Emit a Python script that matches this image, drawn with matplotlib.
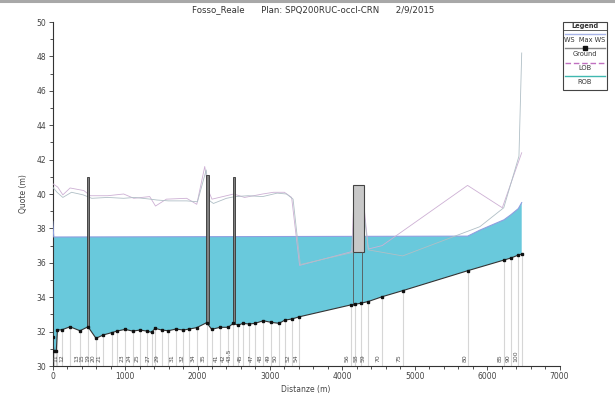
import numpy as np
import matplotlib
matplotlib.use("Agg")
import matplotlib.pyplot as plt
from matplotlib.patches import Rectangle
from matplotlib.lines import Line2D
from matplotlib.ticker import MultipleLocator

# ---------------- data ----------------
ground_x = [0, 15, 50, 65, 124, 239, 377, 488, 598, 695, 815, 888, 999, 1105, 1206, 1298,
            1367, 1413, 1506, 1597, 1703, 1804, 1887, 1989, 2127, 2196, 2311, 2425, 2494,
            2563, 2624, 2715, 2794, 2909, 3015, 3126, 3208, 3301, 3406, 4116, 4175, 4258,
            4359, 4552, 4834, 5732, 6233, 6330, 6431, 6478]
ground_z = [31.7, 30.9, 30.9, 32.1, 32.1, 32.28, 32.05, 32.28, 31.61, 31.8, 31.94, 32.03,
            32.13, 32.03, 32.09, 32.03, 31.96, 32.19, 32.09, 32.05, 32.15, 32.09, 32.15,
            32.23, 32.52, 32.13, 32.25, 32.25, 32.48, 32.37, 32.48, 32.44, 32.48, 32.63,
            32.54, 32.48, 32.67, 32.73, 32.86, 33.55, 33.59, 33.65, 33.75, 34.03, 34.38,
            35.54, 36.16, 36.28, 36.45, 36.5]

ws_x = [0, 15, 5732, 5900, 6233, 6330, 6431, 6478]
ws_z = [38.4, 37.5, 37.55, 37.9, 38.5, 38.8, 39.15, 39.5]

lob_x = [0, 70, 140, 240, 430, 520, 760, 980, 1120, 1340, 1420, 1570, 1850, 1990, 2100,
         2150, 2200, 2400, 2500, 2650, 2900, 3050, 3200, 3300, 3410, 4130, 4160, 4290,
         4360, 4550, 5730, 6210, 6478]
lob_z = [40.6, 40.4, 39.95, 40.35, 40.2, 39.9, 39.9, 40.0, 39.75, 39.85, 39.3, 39.7,
         39.75, 39.4, 41.6, 40.2, 39.7, 39.9, 40.0, 39.8, 40.0, 40.1, 40.1, 39.8, 35.85,
         36.65, 39.8, 39.7, 36.8, 37.0, 40.5, 39.2, 42.4]

rob_x = [0, 60, 140, 260, 420, 540, 760, 980, 1130, 1350, 1440, 1600, 1850, 2000, 2120,
         2170, 2220, 2400, 2520, 2700, 2900, 3100, 3230, 3320, 3420, 4140, 4170, 4280,
         4360, 4834, 5900, 6230, 6440, 6478]
rob_z = [40.4, 40.1, 39.8, 40.1, 39.95, 39.75, 39.8, 39.75, 39.8, 39.7, 39.65, 39.6,
         39.6, 39.55, 41.4, 39.6, 39.45, 39.75, 39.85, 39.9, 39.85, 40.05, 40.0, 39.7,
         35.9, 36.6, 39.7, 39.6, 36.75, 36.4, 38.1, 39.2, 42.2, 48.2]

# bridges (left x, right x, bottom, top)
bridge_x0 = [475, 2115, 2492]
bridge_x1 = [498, 2165, 2514]
bridge_bot = [32.25, 32.45, 32.45]
bridge_top = [41.0, 41.1, 41.0]
box_x0, box_x1, box_bot, box_top = 4152, 4300, 36.6, 40.5

station_labels = ["11", "12", "13", "15", "19", "20", "21", "23", "24", "25", "27", "29",
                  "31", "32", "34", "35", "41", "42", "43.5", "45", "47", "48", "49", "50",
                  "52", "54", "56", "58", "59", "70", "75", "80", "85", "90", "100"]
station_label_x = [45, 125, 331, 400, 480, 560, 640, 953, 1054, 1160, 1316, 1440, 1648,
                   1782, 1942, 2076, 2255, 2352, 2440, 2593, 2749, 2866, 2976, 3071, 3249,
                   3361, 4061, 4190, 4290, 4493, 4783, 5695, 6178, 6290, 6400]

title_text = "Fosso_Reale      Plan: SPQ200RUC-occl-CRN      2/9/2015"
xlabel_text = "Distanze (m)"
ylabel_text = "Quote (m)"

# ---------------- figure ----------------
W, H = 615, 397
fig = plt.figure(figsize=(W / 100, H / 100), dpi=100)
ax = fig.add_axes([52.7 / W, 1 - 366 / H, (559.5 - 52.7) / W, (366 - 22) / H])
ax.set_xlim(0, 7000)
ax.set_ylim(30, 50)

txtc = "#444444"

# vertical station lines
for gx, gz in zip(ground_x, ground_z):
    ax.plot([gx, gx], [30, gz], color="#d6d6d6", lw=0.8, zorder=1)

# water fill polygon (WS then ground reversed)
poly_x = np.concatenate([ws_x, ground_x[::-1]])
poly_z = np.concatenate([ws_z, ground_z[::-1]])
ax.fill(poly_x, poly_z, color="#69c9dc", lw=0, zorder=2)
ax.plot(ws_x, ws_z, color="#8f9fe0", lw=0.8, zorder=3)

# bank lines
ax.plot(lob_x, lob_z, color="#cdb0d4", lw=0.6, zorder=3)
ax.plot(rob_x, rob_z, color="#b0bfc6", lw=0.6, zorder=3)

# bridges
for x0, x1, b, t in zip(bridge_x0, bridge_x1, bridge_bot, bridge_top):
    ax.add_patch(Rectangle((x0, b), x1 - x0, t - b, facecolor="#808080",
                           edgecolor="#333333", lw=0.6, zorder=4))
ax.add_patch(Rectangle((box_x0, box_bot), box_x1 - box_x0, box_top - box_bot,
                       facecolor="#c8c8c8", edgecolor="#444444", lw=0.8, zorder=4))
ax.plot([box_x0, box_x0], [box_bot, 33.55], color="#555555", lw=0.6, zorder=4)
ax.plot([box_x1 - 30, box_x1 - 30], [box_bot, 33.62], color="#555555", lw=0.6, zorder=4)

# ground
ax.plot(ground_x, ground_z, color="#333333", lw=0.8, marker="s", ms=2.1,
        mfc="#111111", mec="#111111", zorder=5)

# station labels
for lab, sx in zip(station_labels, station_label_x):
    ax.text(sx, 30.25, lab, rotation=90, fontsize=4.4, color="#505050",
            ha="center", va="bottom", zorder=6)

# axes styling
for s in ["top", "right"]:
    ax.spines[s].set_visible(False)
for s in ["left", "bottom"]:
    ax.spines[s].set_color("#333333")
    ax.spines[s].set_linewidth(0.8)
ax.xaxis.set_major_locator(MultipleLocator(1000))
ax.xaxis.set_minor_locator(MultipleLocator(200))
ax.yaxis.set_major_locator(MultipleLocator(2))
ax.yaxis.set_minor_locator(MultipleLocator(1))
ax.tick_params(which="major", length=3, width=0.6, labelsize=5.5, colors="#333333",
               labelcolor=txtc, pad=1.5)
ax.tick_params(which="minor", length=2, width=0.6, colors="#333333")
ax.set_xlabel(xlabel_text, fontsize=5.5, color=txtc, labelpad=3)
ax.set_ylabel(ylabel_text, fontsize=5.5, color=txtc, labelpad=6)

# title
fig.text(313 / W, 1 - 10 / H, title_text, fontsize=6.2, color="#333333",
         ha="center", va="center")
# top gray bar
fig.add_artist(Line2D([0, 1], [1 - 1 / H, 1 - 1 / H], transform=fig.transFigure,
                      color="#a8a8a8", lw=2.2))

# legend box (figure pixel coords)
def fx(px):
    return px / W

def fy(py):
    return 1 - py / H

lx0, lx1, ly0, ly1 = 562.7, 607.3, 21.7, 90
fig.add_artist(Rectangle((fx(lx0), fy(ly1)), fx(lx1) - fx(lx0), fy(ly0) - fy(ly1),
                         transform=fig.transFigure, facecolor="white",
                         edgecolor="#444444", lw=0.8))
fig.add_artist(Line2D([fx(lx0), fx(lx1)], [fy(30), fy(30)], transform=fig.transFigure,
                      color="#444444", lw=0.6))
cx = (lx0 + lx1) / 2
fig.text(fx(cx), fy(25.8), "Legend", fontsize=4.8, fontweight="bold", color="#333333",
         ha="center", va="center")
legend_rows = [("WS  Max WS", "#a8b4e8", "-", None, 34.3, 40.2),
               ("Ground", "#888888", "-", "s", 48.3, 54.4),
               ("LOB", "#c070c0", (0, (4, 2)), None, 63.3, 68.4),
               ("ROB", "#40b8b0", "-", None, 76.0, 81.8)]
for lab, col, ls, mk, ly, ty in legend_rows:
    fig.add_artist(Line2D([fx(lx0 + 2), fx(lx1 - 2)], [fy(ly), fy(ly)],
                          transform=fig.transFigure, color=col, lw=1.0, ls=ls))
    if mk:
        fig.add_artist(Line2D([fx(cx)], [fy(ly)], transform=fig.transFigure,
                              marker=mk, ms=2.2, color="#111111", lw=0))
    fig.text(fx(cx), fy(ty), lab, fontsize=4.8, color="#333333", ha="center", va="center")

fig.savefig("out.png", dpi=100)
